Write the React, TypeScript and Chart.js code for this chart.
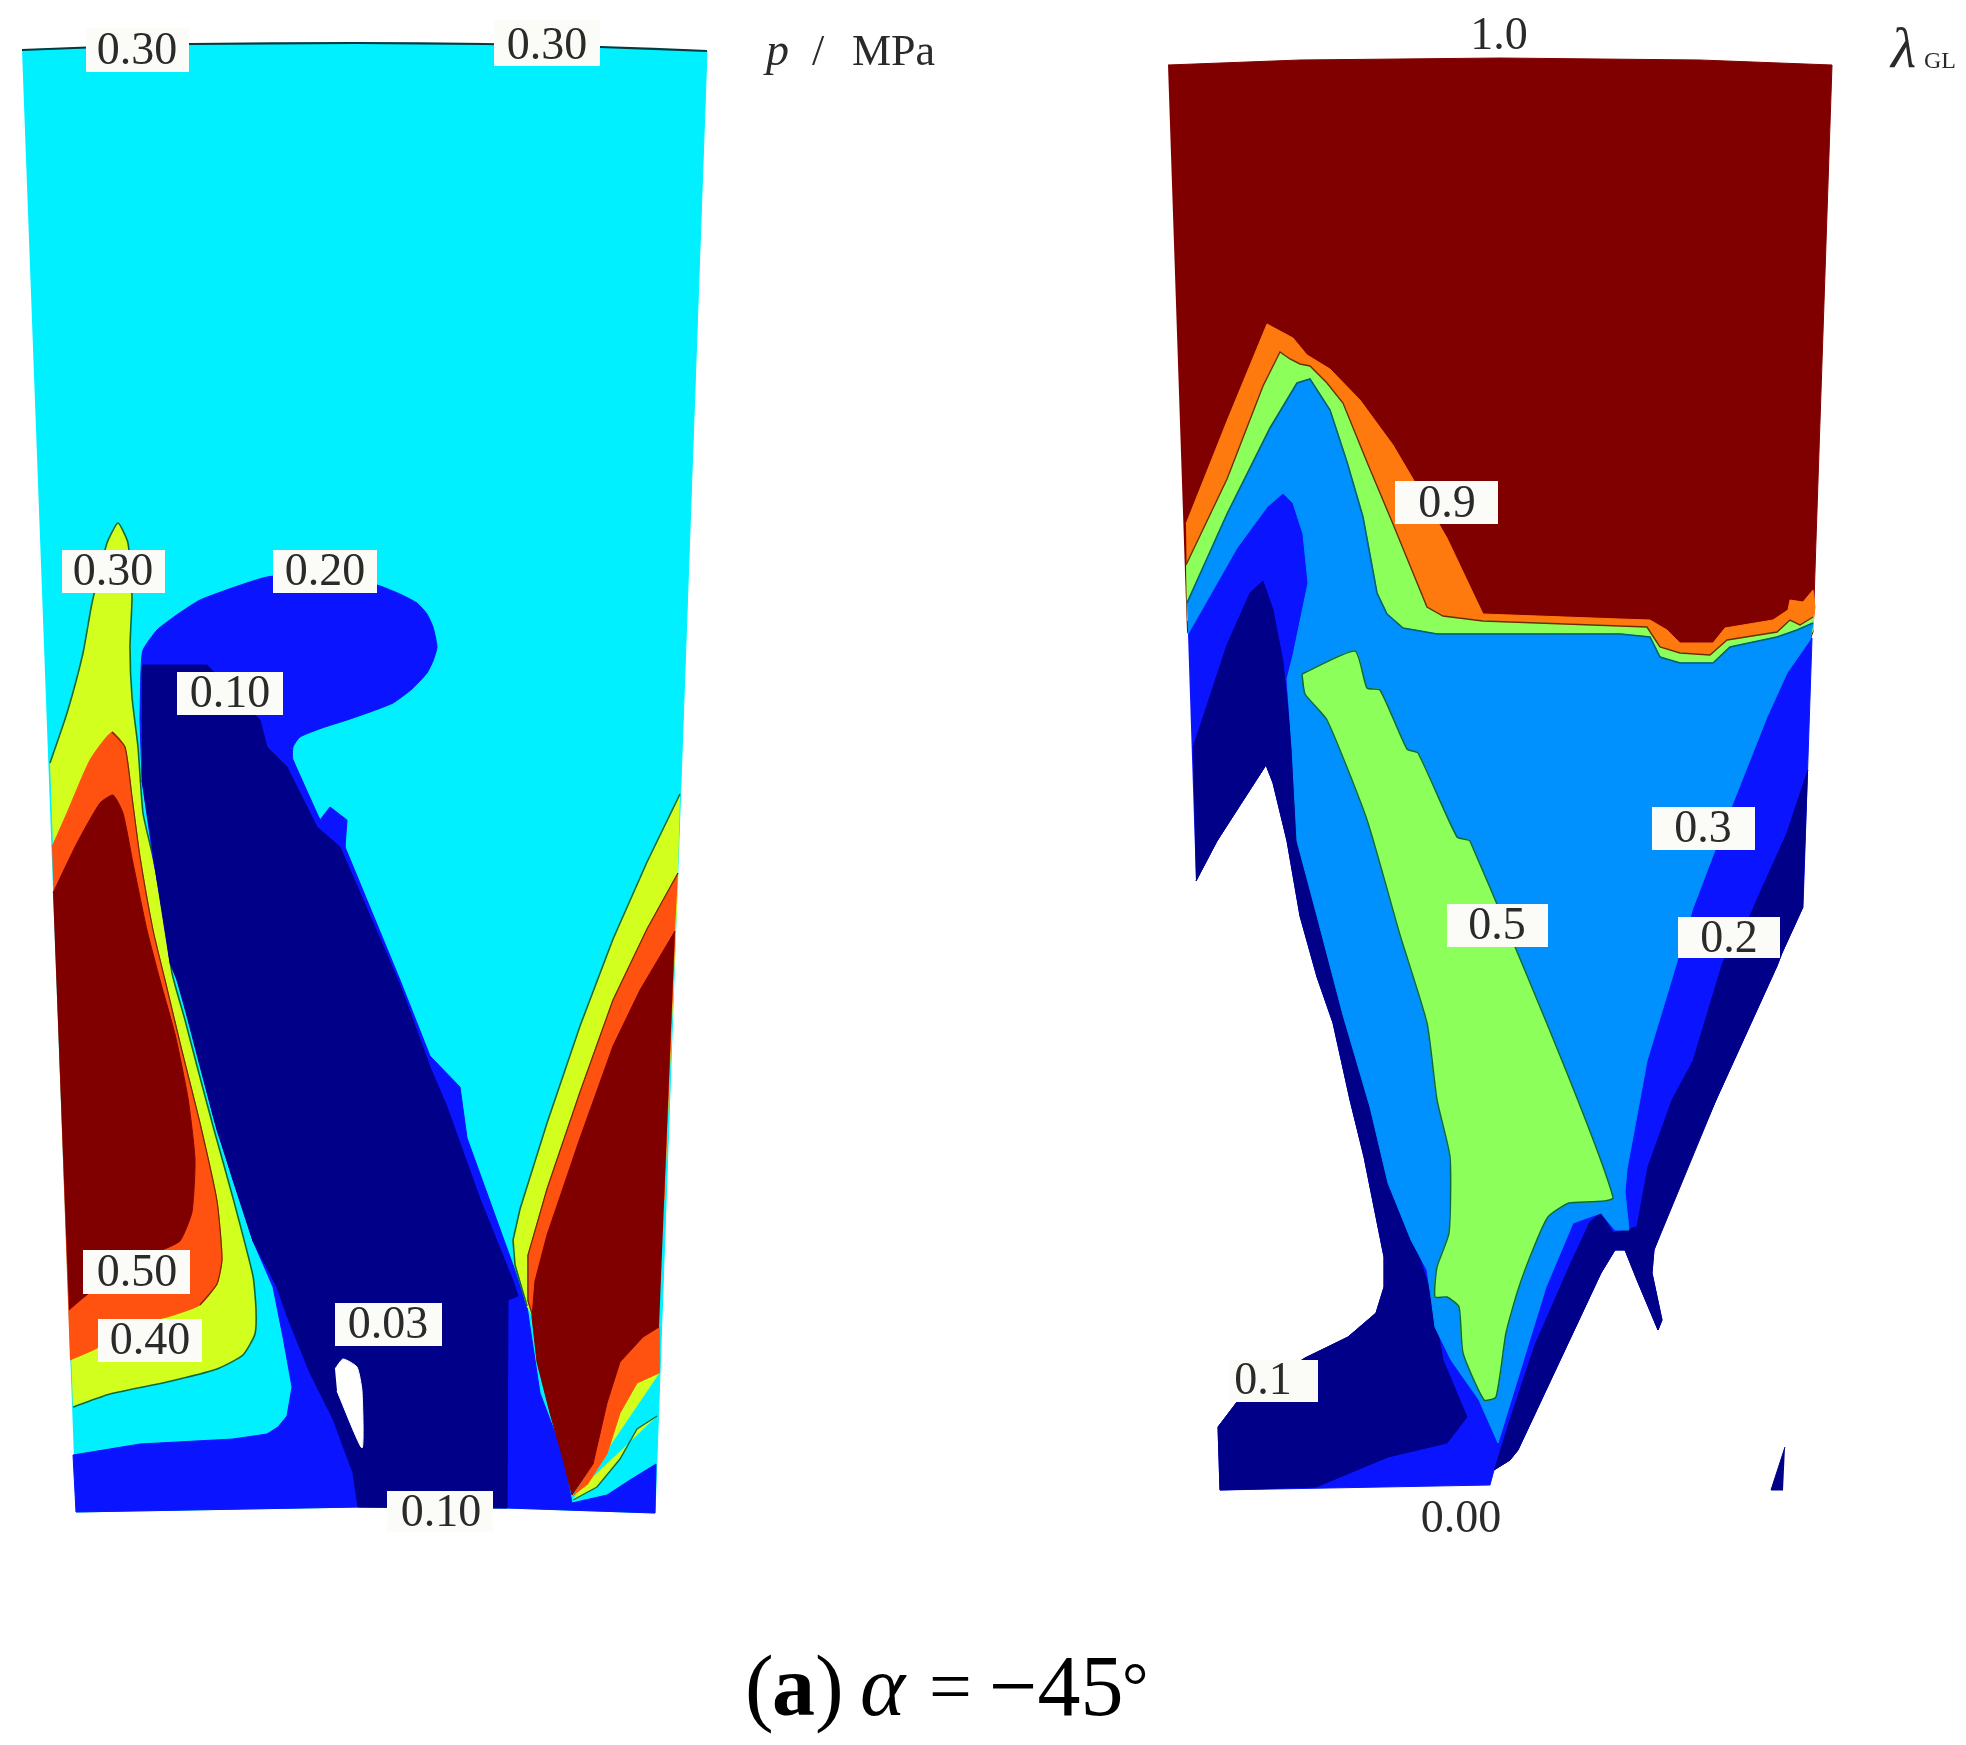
import React, { useEffect, useRef } from "react";
import { Chart, registerables } from "chart.js";

Chart.register(...registerables);

type P = number[][];

// ---------- left panel: pressure p / MPa ----------
const pOutline: P = [[22,50],[100,47],[191,44],[355,43],[485,44],[600,47],[707,51],[655,1513],[507,1508],[360,1507],[76,1512]];
const pTopEdge: P = [[22,50],[100,47],[191,44],[355,43],[485,44],[600,47],[707,51]];

const pYellowLeftContour: P = [[50,763],[67,713],[83,653],[92,603],[107,543],[118,523],[128,543],[132,597],[130,647],[132,697],[138,747],[143,813],[153,857],[163,907],[172,973],[185,1020],[197,1066],[213,1126],[233,1198],[253,1276],[256,1309],[255,1334],[243,1355],[217,1369],[167,1382],[110,1394],[73,1407]];
const pOrangeLeftContour: P = [[52,847],[67,813],[90,760],[112,732],[125,747],[132,797],[140,857],[153,930],[165,980],[182,1051],[200,1123],[217,1201],[222,1259],[217,1284],[200,1305],[167,1317],[130,1325],[97,1348],[70,1360]];
const pRedLeft: P = [[53,893],[77,843],[100,803],[113,795],[123,813],[133,863],[147,930],[160,980],[175,1034],[188,1098],[195,1159],[192,1212],[180,1241],[160,1251],[120,1270],[83,1298],[69,1310]];
const pBlueBlob: P = [[140,720],[141,670],[143,650],[157,630],[178,614],[200,600],[232,588],[267,577],[325,572],[358,579],[383,587],[402,595],[417,603],[427,614],[433,627],[437,647],[433,661],[427,673],[412,689],[393,703],[370,712],[347,720],[322,728],[300,737],[293,747],[293,760],[320,820],[345,847],[300,900],[200,800]];
const pBlue: P = [[293,760],[320,820],[330,807],[347,820],[345,847],[400,980],[430,1056],[460,1087],[467,1138],[513,1265],[527,1306],[530,1327],[540,1393],[563,1454],[572,1503],[607,1495],[630,1480],[656,1464],[655,1513],[507,1508],[360,1507],[76,1512],[73,1455],[140,1444],[233,1439],[267,1434],[278,1427],[287,1416],[292,1387],[283,1337],[273,1287],[253,1241],[233,1180],[213,1115],[197,1051],[187,1009],[177,980],[172,963],[153,857],[142,780],[140,720]];
const pNavy: P = [[142,670],[143,665],[207,665],[240,700],[260,720],[267,747],[287,767],[317,827],[340,847],[400,985],[430,1067],[447,1107],[480,1199],[513,1281],[518,1296],[508,1300],[507,1508],[358,1507],[353,1473],[333,1419],[310,1373],[287,1316],[277,1287],[253,1241],[217,1130],[200,1066],[187,1016],[177,980],[170,963],[157,880],[150,830],[142,780]];
const pHole: P = [[335,1369],[343,1359],[357,1367],[362,1391],[362,1448],[337,1391]];
const pYellowRightContour: P = [[680,794],[647,862],[613,939],[580,1026],[547,1123],[520,1209],[513,1240],[515,1265],[527,1306]];
const pYellowRightClose: P = [[533,1317],[560,1400],[664,1200],[678,873]];
const pOrangeRightContour: P = [[678,873],[647,929],[613,1000],[580,1092],[547,1189],[528,1255],[528,1301],[533,1317]];
const pOrangeRightClose: P = [[560,1400],[664,1200],[675,931]];
const pRedRight: P = [[675,931],[640,990],[613,1046],[580,1138],[547,1235],[535,1281],[532,1317],[537,1362],[550,1413],[563,1459],[572,1495],[593,1464],[607,1403],[620,1362],[643,1337],[659,1327]];
const pOrangeLow: P = [[573,1496],[593,1464],[607,1403],[620,1362],[643,1337],[659,1327],[659,1373],[637,1383],[620,1413],[607,1454],[587,1485]];
const pYellowLowContour: P = [[657,1416],[637,1429],[620,1459],[597,1487],[573,1500]];
const pYellowLowTop: P = [[573,1496],[587,1485],[607,1454],[620,1413],[637,1383],[659,1373]];

// ---------- right panel: lambda GL ----------
const gRed: P = [[1168,65],[1300,60],[1500,58],[1700,60],[1832,65],[1816,540],[1813,632],[1790,690],[1300,690],[1187,632]];
const gOrangeEdge: P = [[1186,524],[1227,421],[1267,324],[1293,338],[1307,355],[1330,369],[1360,400],[1393,445],[1413,479],[1447,538],[1483,614],[1620,619],[1650,620],[1667,630],[1680,643],[1713,643],[1725,628],[1773,620],[1788,610],[1790,600],[1803,602],[1813,590],[1815,607]];
const gOrangeClose: P = [[1813,625],[1790,680],[1300,680],[1187,600]];
const gGreenContour: P = [[1186,565],[1227,479],[1263,386],[1280,352],[1290,359],[1300,364],[1310,366],[1327,383],[1343,403],[1367,462],[1393,524],[1427,607],[1443,616],[1483,621],[1620,626],[1647,627],[1660,647],[1680,653],[1710,655],[1727,640],[1777,632],[1790,620],[1800,625],[1813,617]];
const gGreenClose: P = [[1813,630],[1790,680],[1300,680],[1187,620]];
const gBlueContour: P = [[1187,603],[1227,514],[1270,428],[1297,383],[1310,379],[1330,410],[1347,462],[1363,517],[1377,593],[1387,614],[1403,628],[1437,634],[1620,634],[1650,637],[1660,657],[1680,663],[1713,663],[1730,647],[1777,637],[1797,630],[1813,623]];
const gBlueBody: P = [[1810,640],[1787,673],[1767,717],[1733,803],[1693,908],[1670,985],[1647,1061],[1627,1169],[1625,1192],[1629,1230],[1615,1230],[1609,1223],[1601,1213],[1573,1223],[1546,1287],[1498,1443],[1479,1400],[1451,1360],[1435,1327],[1431,1297],[1427,1270],[1411,1240],[1388,1183],[1370,1107],[1343,1015],[1317,916],[1297,841],[1292,748],[1287,679],[1293,655],[1308,583],[1303,534],[1293,503],[1283,493],[1267,507],[1237,548],[1188,634]];
const gDomain: P = [[1188,634],[1230,530],[1283,480],[1320,560],[1330,620],[1400,680],[1780,680],[1808,638],[1812,638],[1803,907],[1782,953],[1777,966],[1716,1100],[1676,1190],[1654,1250],[1652,1273],[1662,1320],[1658,1330],[1637,1280],[1625,1250],[1615,1250],[1601,1273],[1518,1450],[1510,1460],[1494,1470],[1490,1485],[1220,1490],[1218,1427],[1237,1402],[1305,1358],[1348,1337],[1376,1313],[1384,1287],[1384,1257],[1376,1217],[1364,1157],[1350,1100],[1333,1023],[1317,977],[1300,916],[1287,841],[1273,783],[1266,765],[1217,841],[1196,881]];
const gNavyLeft: P = [[1193,748],[1227,645],[1250,593],[1263,581],[1273,610],[1283,662],[1292,750],[1330,900],[1400,1200],[1430,1290],[1443,1360],[1467,1417],[1447,1443],[1388,1457],[1316,1487],[1220,1490],[1218,1427],[1237,1402],[1305,1358],[1348,1337],[1376,1313],[1384,1287],[1384,1257],[1376,1217],[1364,1157],[1350,1100],[1333,1023],[1317,977],[1300,916],[1287,841],[1273,783],[1266,765],[1217,841],[1196,881]];
const gNavyRight: P = [[1808,770],[1787,833],[1760,893],[1750,916],[1723,962],[1693,1061],[1672,1100],[1648,1167],[1637,1227],[1613,1233],[1601,1213],[1590,1222],[1570,1265],[1535,1345],[1510,1420],[1496,1465],[1494,1470],[1510,1460],[1518,1450],[1601,1273],[1615,1250],[1625,1250],[1637,1280],[1658,1330],[1662,1320],[1652,1273],[1654,1250],[1716,1100],[1777,966],[1782,953],[1803,907]];
const gNavySpeck: P = [[1785,1447],[1771,1490],[1783,1490]];
const gIsland: P = [[1302,674],[1355,651],[1367,688],[1380,690],[1407,749],[1418,753],[1457,837],[1470,841],[1613,1197],[1569,1203],[1548,1217],[1534,1247],[1518,1290],[1506,1333],[1496,1397],[1484,1400],[1463,1353],[1459,1307],[1447,1297],[1435,1297],[1437,1267],[1449,1233],[1450,1157],[1437,1100],[1427,1023],[1400,935],[1367,820],[1327,720],[1305,694]];
const gIslandSpot: P = [[1449,1320],[1453,1337],[1457,1337]];

// ---------- text ----------
const labelTexts = ["0.30","0.30","0.30","0.20","0.10","0.50","0.40","0.03","0.10","0.9","0.5","0.3","0.2","0.1"];
const labelCentres: P = [[137,52],[547,47],[113,573],[325,573],[230,695],[137,1274],[150,1342],[388,1326],[441,1514],[1447,505],[1497,927],[1703,830],[1729,940],[1263,1382]];
const labelBoxes: P = [[86,28,189,72],[494,20,600,66],[62,550,165,593],[273,550,377,593],[177,672,283,715],[83,1250,190,1294],[98,1319,202,1362],[335,1303,442,1346],[387,1491,493,1532],[1395,481,1498,524],[1447,904,1548,947],[1652,807,1755,850],[1678,917,1780,958],[1229,1360,1318,1402]];
const plainTexts = ["1.0","0.00"];
const plainCentres: P = [[1499,37],[1461,1520]];

const C = {
  cyan: "#00f0ff", yellow: "#d2ff1e", orangeP: "#ff5210", red: "#800000",
  blue: "#0a14ff", navy: "#000088", midBlue: "#0091ff", green: "#8cff5a", orangeG: "#ff7a0e",
  white: "#ffffff", lineG: "#0b6a3c", lineR: "#6e2a00", lineB: "#02636e",
};

const SERIF = '"Liberation Serif", serif';
const SMOOTH = 0.18;

const textPlugin = {
  id: "contourText",
  afterDatasetsDraw(chart: any) {
    const { ctx, scales } = chart;
    const X = (v: number) => scales.x.getPixelForValue(v);
    const Y = (v: number) => scales.y.getPixelForValue(v);
    ctx.save();
    labelBoxes.forEach(([a, b, c, d]) => {
      ctx.fillStyle = "#fbfbf8";
      ctx.fillRect(X(a), Y(b), X(c) - X(a), Y(d) - Y(b));
    });
    ctx.fillStyle = "#2a2a2a";
    ctx.textAlign = "center";
    ctx.textBaseline = "middle";
    ctx.font = `46px ${SERIF}`;
    labelTexts.forEach((t, i) => ctx.fillText(t, X(labelCentres[i][0]), Y(labelCentres[i][1])));
    plainTexts.forEach((t, i) => ctx.fillText(t, X(plainCentres[i][0]), Y(plainCentres[i][1])));

    ctx.textAlign = "left";
    ctx.textBaseline = "alphabetic";
    ctx.font = `italic 46px ${SERIF}`;
    ctx.fillText("p", X(766), Y(65));
    ctx.font = `44px ${SERIF}`;
    ctx.fillText("/", X(812), Y(65));
    ctx.fillText("MPa", X(852), Y(65));
    ctx.font = `italic 58px ${SERIF}`;
    ctx.fillText("λ", X(1891), Y(67));
    ctx.font = `24px ${SERIF}`;
    ctx.fillText("GL", X(1924), Y(68));

    ctx.fillStyle = "#000000";
    ctx.font = `86px ${SERIF}`;
    ctx.fillText("(", X(745), Y(1715));
    ctx.fillText(")", X(815), Y(1715));
    ctx.fillText("−45", X(989), Y(1715));
    ctx.font = `76px ${SERIF}`;
    ctx.fillText("=", X(929), Y(1712));
    ctx.font = `66px ${SERIF}`;
    ctx.fillText("°", X(1122), Y(1708));
    ctx.font = `bold 86px ${SERIF}`;
    ctx.fillText("a", X(772), Y(1715));
    ctx.font = `italic 86px ${SERIF}`;
    ctx.fillText("α", X(860), Y(1715));
    ctx.restore();
  },
};

function toPoints(p: P) {
  return p.map(([x, y]) => ({ x, y }));
}

function area(points: P, colour: string, tension = SMOOTH) {
  return {
    data: toPoints(points), showLine: true, fill: "shape", tension,
    backgroundColor: colour, borderColor: colour, borderWidth: 1, pointRadius: 0,
  };
}

function line(points: P, colour: string, width = 1.6, tension = SMOOTH) {
  return {
    data: toPoints(points), showLine: true, fill: false, tension,
    borderColor: colour, borderWidth: width, pointRadius: 0,
  };
}

export default function App() {
  const ref = useRef<HTMLCanvasElement>(null);
  useEffect(() => {
    const layers = [
      // left panel, bottom layer first
      area(pOutline, C.cyan, 0),
      line(pTopEdge, "#063a40", 2.2),
      area(pYellowLeftContour, C.yellow),
      line(pYellowLeftContour, C.lineG),
      area(pOrangeLeftContour, C.orangeP),
      line(pOrangeLeftContour.slice(3, 15), C.lineR, 1.2),
      area(pRedLeft, C.red),
      area(pBlueBlob, C.blue),
      area(pBlue, C.blue, 0),
      area(pNavy, C.navy, 0),
      area(pHole, C.white),
      area([...pYellowRightContour, ...pYellowRightClose], C.yellow, 0),
      line(pYellowRightContour, C.lineG, 1.6, 0),
      area([...pOrangeRightContour, ...pOrangeRightClose], C.orangeP, 0),
      line(pOrangeRightContour, C.lineR, 1.2, 0),
      area([...pYellowLowTop, ...[...pYellowLowContour].reverse()], C.yellow, 0),
      line(pYellowLowContour, C.lineG, 1.4, 0),
      area(pOrangeLow, C.orangeP, 0),
      area(pRedRight, C.red, 0),
      // right panel
      area(gRed, C.red, 0),
      area([...gOrangeEdge, ...gOrangeClose], C.orangeG, 0),
      area([...gGreenContour, ...gGreenClose], C.green, 0),
      line(gGreenContour, C.lineR, 1.4, 0),
      area(gDomain, C.blue, 0),
      area(gNavyLeft, C.navy, 0),
      area(gNavyRight, C.navy, 0),
      area(gNavySpeck, C.navy, 0),
      area([...gBlueContour, ...gBlueBody], C.midBlue, 0),
      line(gBlueContour, C.lineB, 1.6, 0),
      area(gIsland, C.green),
      line([...gIsland, gIsland[0]], C.lineG, 1.5),
      area(gIslandSpot, C.midBlue, 0),
    ];
    const datasets = layers.map((d, i) => ({ ...d, order: layers.length - i }));
    const chart = new Chart(ref.current as HTMLCanvasElement, {
      type: "scatter",
      data: { datasets } as any,
      options: {
        animation: false,
        responsive: false,
        layout: { padding: 0 },
        events: [],
        scales: {
          x: { type: "linear", display: false, min: 0, max: 1966 },
          y: { type: "linear", display: false, min: 0, max: 1745, reverse: true },
        },
        plugins: { legend: { display: false }, tooltip: { enabled: false } },
      } as any,
      plugins: [textPlugin],
    });
    return () => chart.destroy();
  }, []);
  return (
    <canvas
      ref={ref}
      width={1966}
      height={1745}
      style={{ position: "fixed", left: 0, top: 0, width: 1966, height: 1745, background: "#fff" }}
    />
  );
}
